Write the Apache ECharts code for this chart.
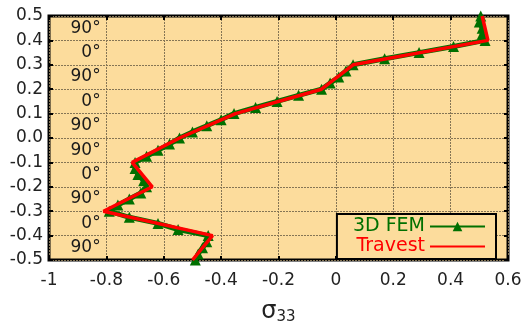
<!DOCTYPE html>
<html>
<head>
<meta charset="utf-8">
<script src="https://cdn.jsdelivr.net/npm/echarts@6/dist/echarts.min.js"></script>
<style>
  html, body { margin: 0; padding: 0; background: #fff; }
  #chart { width: 522px; height: 324px; }
</style>
</head>
<body>
<div id="chart"></div>
<script>
// thickness coordinate (y) for the FEM curve
const femZ = [-0.5, -0.475, -0.45, -0.425, -0.4, -0.375, -0.35, -0.325, -0.3, -0.275,
    -0.25, -0.225, -0.2, -0.175, -0.15, -0.125, -0.1, -0.075, -0.05, -0.025,
    0, 0.025, 0.05, 0.075, 0.1, 0.125, 0.15, 0.175, 0.2, 0.225,
    0.25, 0.275, 0.3, 0.325, 0.35, 0.375, 0.4, 0.425, 0.45, 0.475, 0.5]
// sigma33 from 3D FEM
const femS = [-0.49, -0.48, -0.465, -0.45, -0.445, -0.55, -0.62, -0.72, -0.79, -0.76,
    -0.72, -0.68, -0.66, -0.67, -0.69, -0.7, -0.7, -0.66, -0.62, -0.58,
    -0.545, -0.5, -0.45, -0.4, -0.355, -0.28, -0.205, -0.13, -0.05, -0.02,
    0.01, 0.035, 0.06, 0.17, 0.29, 0.41, 0.52, 0.51, 0.51, 0.5, 0.505]
// Travest model, values at the layer interfaces
const travZ = [-0.5, -0.4, -0.3, -0.2, -0.1, 0, 0.1, 0.2, 0.3, 0.4, 0.5]
const travS = [-0.5, -0.43, -0.81, -0.64, -0.71, -0.545, -0.35, -0.05, 0.06, 0.53, 0.51]
// ply orientation labels, centred in each ply
const plyZ = [0.45, 0.35, 0.25, 0.15, 0.05, -0.05, -0.15, -0.25, -0.35, -0.45]
const plyLabels = ['90°', '0°', '90°', '0°', '90°', '90°', '0°', '90°', '0°', '90°']
const plyX = -0.82

const font = 'DejaVu Sans'
const gridLine = { show: true, lineStyle: { color: '#857555', type: [2, 1], width: 1 } }
const tick = { show: true, inside: true, length: 4, lineStyle: { color: '#000', width: 2 } }

const chart = echarts.init(document.getElementById('chart'))
chart.setOption({
    animation: false,
    grid: {
        left: 49, right: 14, top: 16, bottom: 64,
        outerBoundsMode: 'none',
        containLabel: false,
        show: true,
        backgroundColor: '#fcdc9c',
        borderColor: '#000',
        borderWidth: 3
    },
    xAxis: [{
        type: 'value',
        min: -1, max: 0.6, interval: 0.2,
        axisLine: { show: false, onZero: false },
        axisTick: tick,
        splitLine: gridLine,
        axisLabel: {
            fontFamily: font, fontSize: 17, color: '#222', margin: 12,
            formatter: v => {
                const r = Math.round(v * 10) / 10
                return r === 0 ? '0' : (r === -1 ? '-1' : r.toFixed(1))
            }
        },
        name: '{s|σ}{sub|33}',
        nameLocation: 'middle',
        nameGap: 39,
        nameTextStyle: {
            rich: {
                s: { fontFamily: font, fontSize: 24, color: '#222', lineHeight: 26 },
                sub: { fontFamily: font, fontSize: 15, color: '#222', padding: [10, 0, 0, 0], lineHeight: 26 }
            }
        }
    }, {
        type: 'value', position: 'top',
        min: -1, max: 0.6, interval: 0.2,
        axisLine: { show: false, onZero: false }, axisTick: tick,
        axisLabel: { show: false }, splitLine: { show: false }
    }],
    yAxis: [{
        type: 'value',
        min: -0.5, max: 0.5, interval: 0.1,
        axisLine: { show: false, onZero: false },
        axisTick: tick,
        splitLine: gridLine,
        axisLabel: {
            fontFamily: font, fontSize: 17, color: '#222', margin: 6,
            formatter: v => (Math.round(v * 10) / 10).toFixed(1)
        }
    }, {
        type: 'value', position: 'right',
        min: -0.5, max: 0.5, interval: 0.1,
        axisLine: { show: false, onZero: false }, axisTick: tick,
        axisLabel: { show: false }, splitLine: { show: false }
    }],
    legend: {
        orient: 'vertical',
        right: 26, top: 214,
        align: 'right',
        backgroundColor: '#fcdc9c',
        borderColor: '#000',
        borderWidth: 2,
        borderRadius: 0,
        padding: [3, 10, 3, 16],
        itemGap: 1,
        itemWidth: 55,
        itemHeight: 12,
        textStyle: { fontFamily: font, fontSize: 19 },
        data: [
            { name: '3D FEM', textStyle: { color: '#007000' } },
            { name: 'Travest', textStyle: { color: '#ff0000' }, itemStyle: { opacity: 0 } }
        ]
    },
    series: [{
        name: '3D FEM',
        type: 'line',
        data: femS.map((s, i) => [s, femZ[i]]),
        color: '#007000',
        lineStyle: { width: 5, color: '#007000' },
        symbol: 'triangle',
        symbolSize: 11,
        itemStyle: { color: '#007000' },
        z: 2
    }, {
        name: 'Travest',
        type: 'line',
        data: travS.map((s, i) => [s, travZ[i]]),
        color: '#ff0000',
        lineStyle: { width: 3.5, color: '#ff0000' },
        symbol: 'none',
        z: 3
    }, {
        name: 'ply',
        type: 'scatter',
        data: plyZ.map((z, i) => [plyX, z, plyLabels[i]]),
        symbolSize: 0,
        silent: true,
        itemStyle: { opacity: 1 },
        emphasis: { disabled: true },
        label: {
            show: true,
            position: 'left',
            distance: 0,
            fontFamily: font,
            fontSize: 17,
            color: '#1a1a1a',
            opacity: 1,
            textBorderWidth: 0,
            formatter: p => p.data[2]
        },
        z: 5
    }]
})
</script>
</body>
</html>
